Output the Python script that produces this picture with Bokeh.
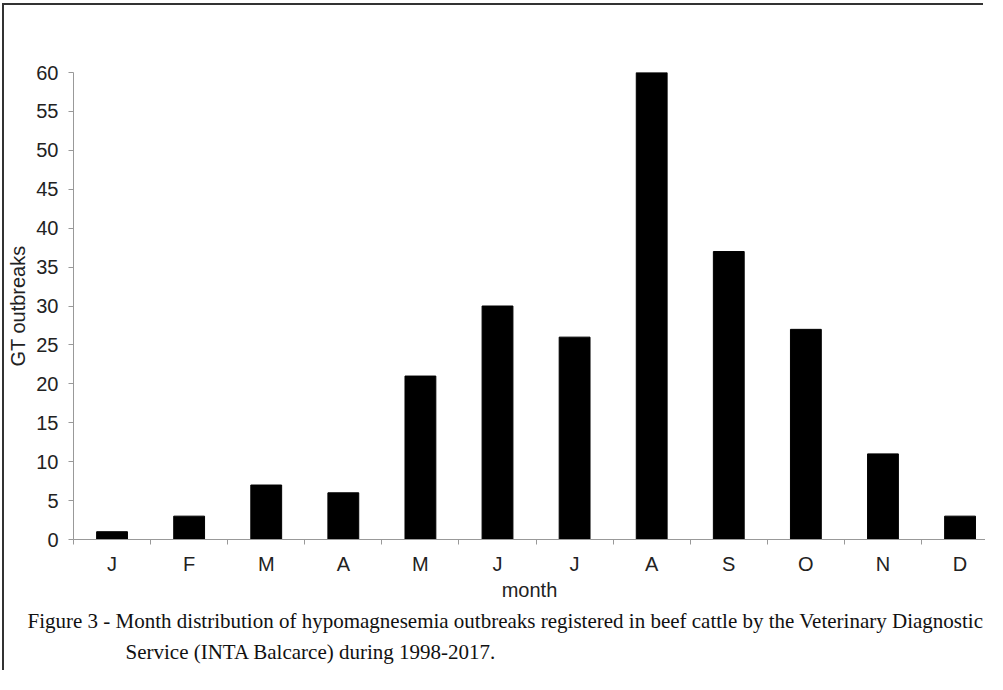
from bokeh.plotting import figure
from bokeh.models import FixedTicker, Range1d, Title, ColumnDataSource
from bokeh.embed import file_html
from bokeh.resources import INLINE

months = ["J", "F", "M", "A", "M", "J", "J", "A", "S", "O", "N", "D"]
outbreaks = [1, 3, 7, 6, 21, 30, 26, 60, 37, 27, 11, 3]
y_ticks = list(range(0, 61, 5))

xs = [i + 0.5 for i in range(len(months))]
src = ColumnDataSource(dict(x=xs, top=outbreaks, label=months))

p = figure(width=981, height=667, output_backend="svg", toolbar_location=None,
           x_range=Range1d(0, 11.83), y_range=Range1d(0, 60),
           min_border_left=57, min_border_right=0, min_border_top=67, min_border_bottom=133)
p.margin = (5, 0, 0, 4)
# page frame: only the left and top edges are visible in the reference
p.styles = {"box-shadow": "-2px -2px 0px 0px #333333"}
p.background_fill_color = "white"
p.border_fill_color = "white"
p.outline_line_color = None
p.grid.visible = False

p.vbar(x="x", top="top", bottom=0, width=0.4, source=src,
       fill_color="black", line_color="black", line_width=1)

sans = "Liberation Sans"
axis_col = "#999999"
text_col = "#222222"

# x axis
xa = p.xaxis[0]
xa.ticker = FixedTicker(ticks=xs, minor_ticks=list(range(0, len(months) + 1)))
xa.major_label_overrides = {x: m for x, m in zip(xs, months)}
xa.major_tick_out = 0
xa.major_tick_in = 0
xa.minor_tick_out = 5
xa.minor_tick_in = 0
xa.minor_tick_line_color = axis_col
xa.axis_line_color = axis_col
xa.major_label_text_font = sans
xa.major_label_text_font_size = "20px"
xa.major_label_text_color = text_col
xa.major_label_standoff = 8
xa.axis_label = "month"
xa.axis_label_text_font = sans
xa.axis_label_text_font_size = "20px"
xa.axis_label_text_font_style = "normal"
xa.axis_label_text_color = text_col
xa.axis_label_standoff = 1

# y axis
ya = p.yaxis[0]
ya.ticker = FixedTicker(ticks=y_ticks, minor_ticks=[])
ya.major_tick_out = 5
ya.major_tick_in = 0
ya.major_tick_line_color = axis_col
ya.axis_line_color = axis_col
ya.major_label_text_font = sans
ya.major_label_text_font_size = "20px"
ya.major_label_text_color = text_col
ya.major_label_standoff = 10
ya.axis_label = "GT outbreaks"
ya.axis_label_text_font = sans
ya.axis_label_text_font_size = "20px"
ya.axis_label_text_font_style = "normal"
ya.axis_label_text_color = text_col
ya.axis_label_standoff = 4

serif = "Liberation Serif"
cap1 = "Figure 3 - Month distribution of hypomagnesemia outbreaks registered in beef cattle by the Veterinary Diagnostic"
cap2 = "Service (INTA Balcarce) during 1998-2017."
p.add_layout(Title(text=cap1, align="left", offset=-46, standoff=6,
                   text_font=serif, text_font_size="21px", text_font_style="normal",
                   text_color="#111111"), "below")
p.add_layout(Title(text=cap2, align="left", offset=52, standoff=5,
                   text_font=serif, text_font_size="21px", text_font_style="normal",
                   text_color="#111111"), "below")

open("out.html", "w").write(file_html(p, INLINE))
